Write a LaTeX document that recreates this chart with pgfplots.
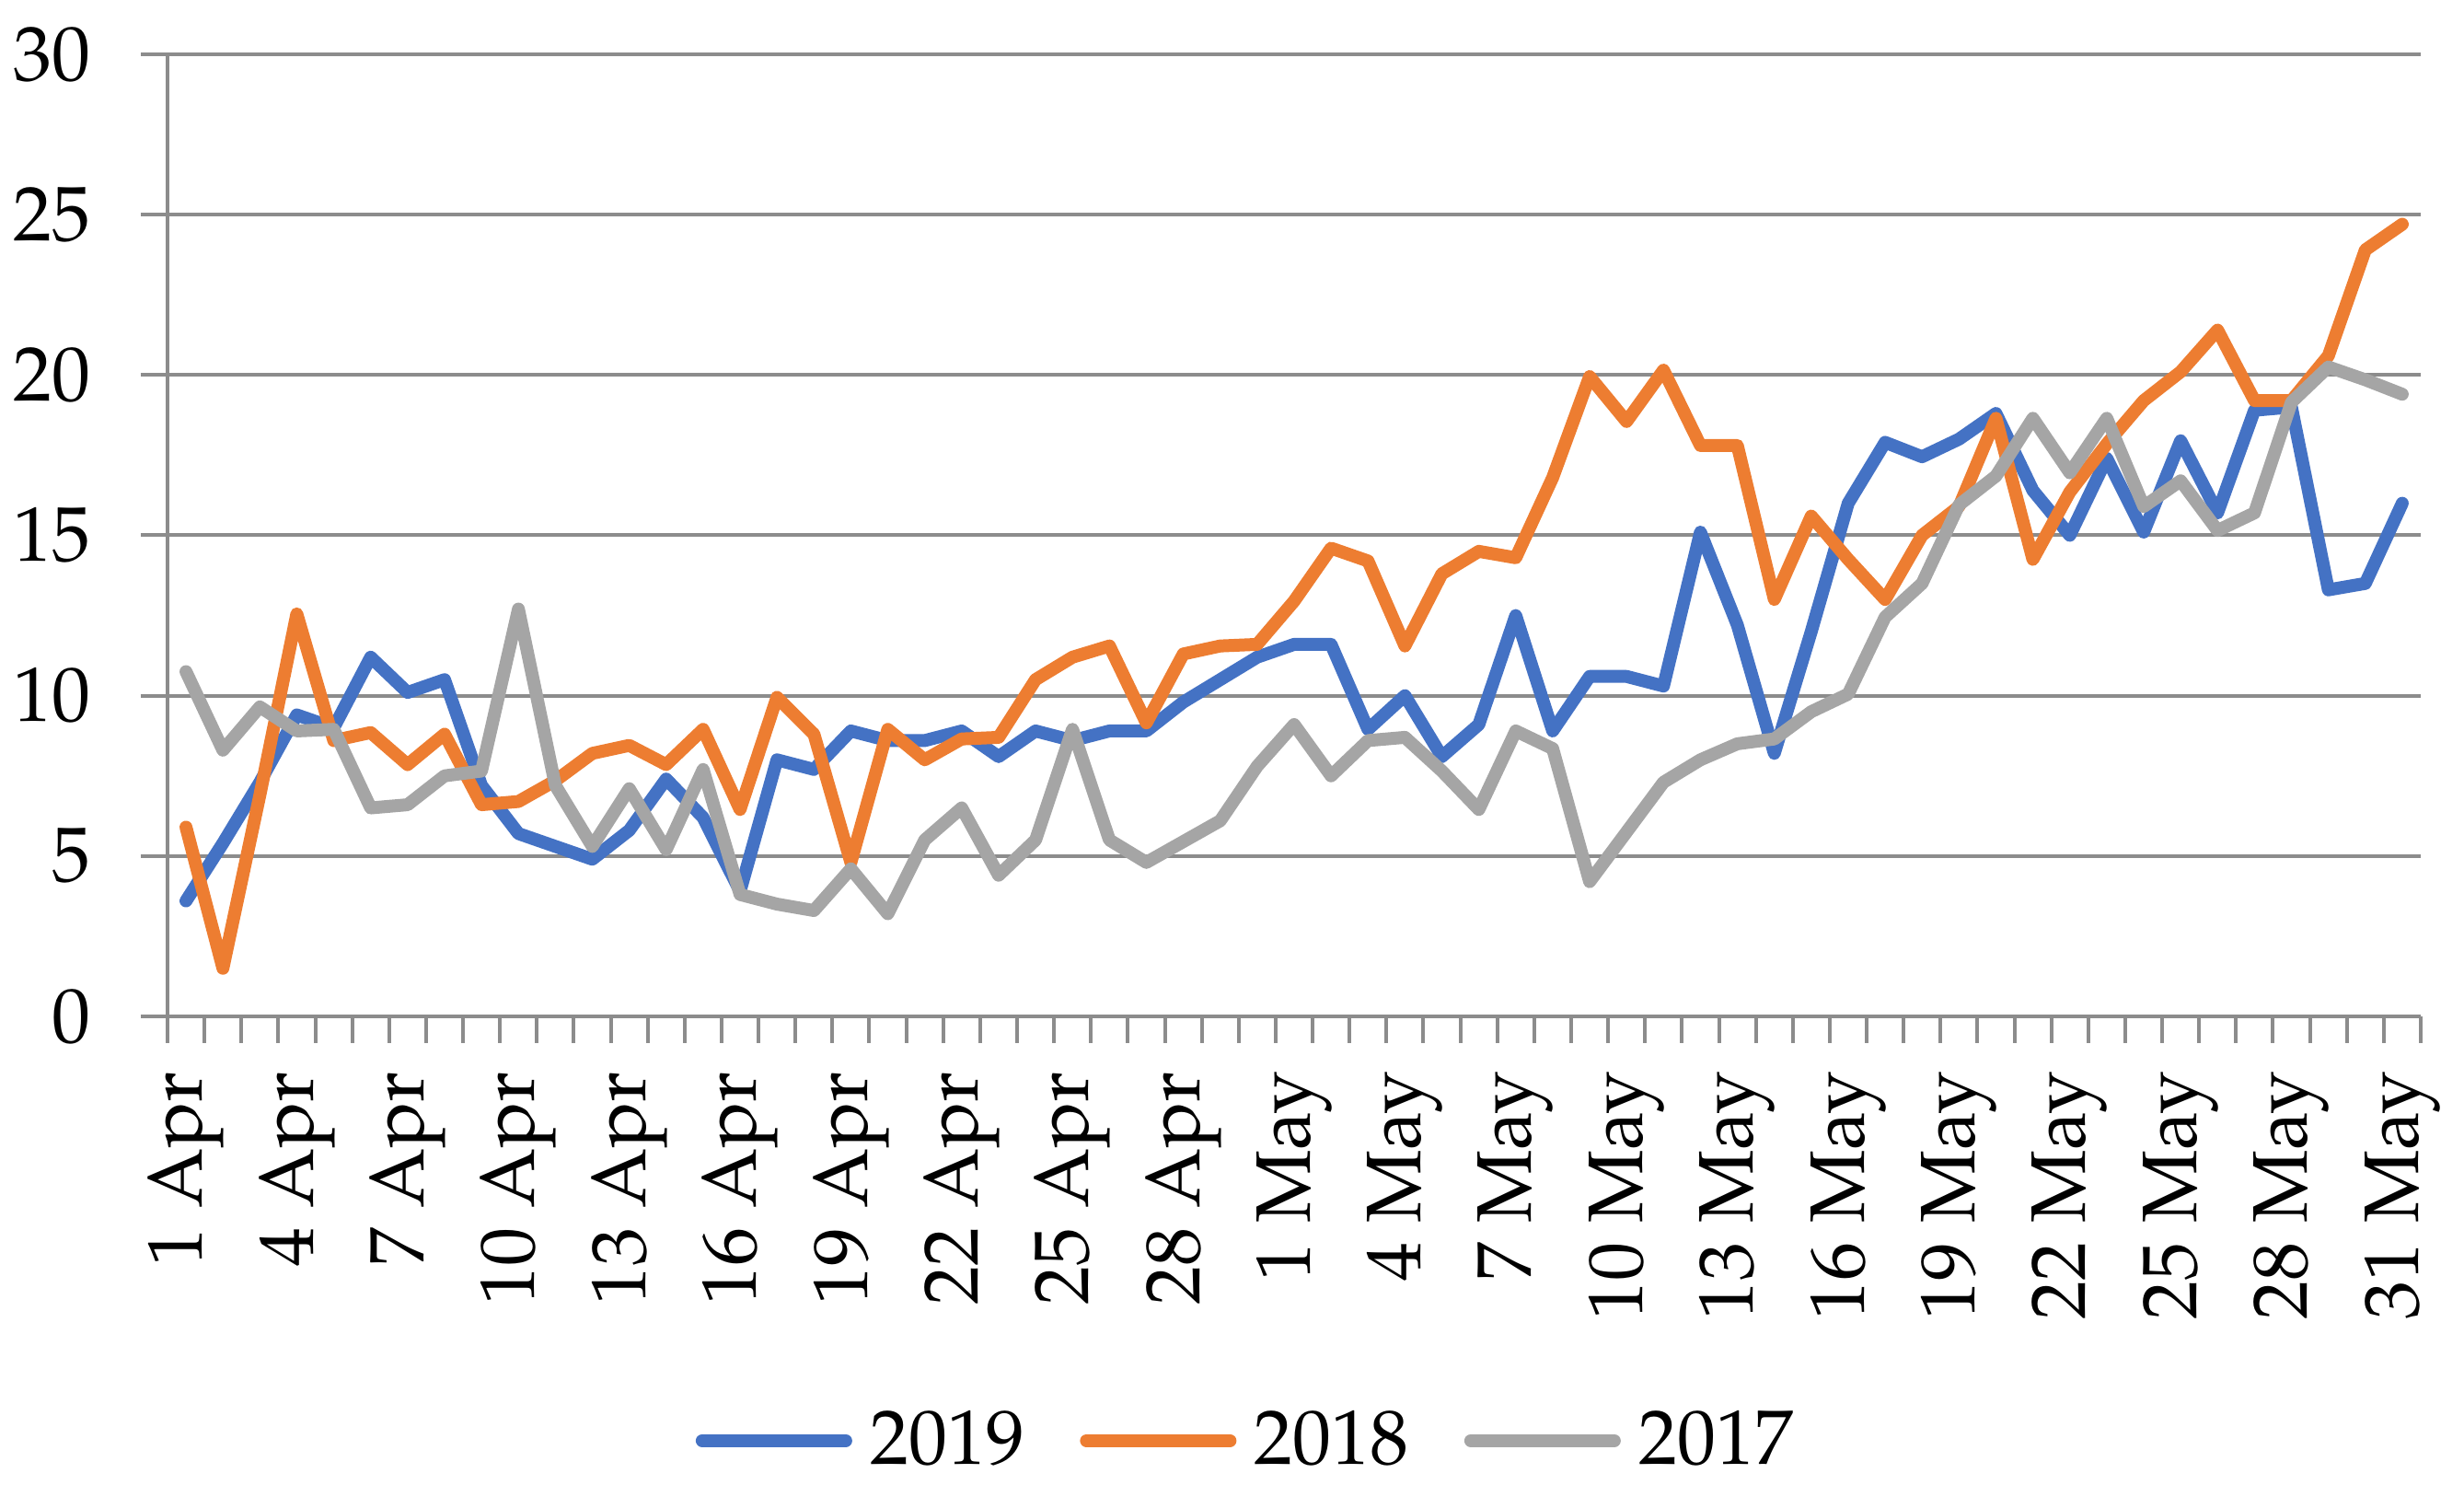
\documentclass[border=0pt]{standalone}
\usepackage{fontspec}
\setmainfont{TeX Gyre Pagella}
\usepackage{pgfplots}
\usepackage{pgfplotstable}
\pgfplotsset{compat=1.18}
\definecolor{c2019}{HTML}{4472C4}
\definecolor{c2018}{HTML}{ED7D31}
\definecolor{c2017}{HTML}{A5A5A5}
\definecolor{gridgray}{HTML}{8C8C8C}
\newcommand{\chartfont}{\fontsize{16.8}{20}\selectfont}

\pgfplotstableread{
i y
0 3.6
1 5.4
2 7.3
3 9.4
4 9.0
5 11.2
6 10.1
7 10.5
8 7.2
9 5.7
10 5.3
11 4.9
12 5.8
13 7.4
14 6.2
15 3.9
16 8.0
17 7.7
18 8.9
19 8.6
20 8.6
21 8.9
22 8.1
23 8.9
24 8.6
25 8.9
26 8.9
27 9.8
28 10.5
29 11.2
30 11.6
31 11.6
32 8.95
33 10.0
34 8.1
35 9.1
36 12.5
37 8.9
38 10.6
39 10.6
40 10.3
41 15.1
42 12.2
43 8.2
44 12.0
45 16.0
46 17.9
47 17.45
48 18.0
49 18.8
50 16.4
51 15.0
52 17.4
53 15.1
54 17.95
55 15.7
56 18.9
57 19.0
58 13.3
59 13.5
60 16.0
}\tableA

\pgfplotstableread{
i y
0 5.9
1 1.5
2 6.9
3 12.55
4 8.6
5 8.85
6 7.85
7 8.8
8 6.6
9 6.7
10 7.35
11 8.2
12 8.45
13 7.85
14 8.95
15 6.45
16 9.95
17 8.8
18 4.8
19 8.95
20 8.0
21 8.65
22 8.7
23 10.5
24 11.2
25 11.55
26 9.15
27 11.3
28 11.55
29 11.6
30 12.95
31 14.6
32 14.2
33 11.55
34 13.8
35 14.5
36 14.3
37 16.8
38 19.95
39 18.55
40 20.15
41 17.8
42 17.8
43 13.0
44 15.6
45 14.25
46 13.0
47 15.0
48 15.9
49 18.65
50 14.25
51 16.35
52 17.85
53 19.2
54 20.1
55 21.4
56 19.2
57 19.2
58 20.6
59 23.9
60 24.7
}\tableB

\pgfplotstableread{
i y
0 10.75
1 8.3
2 9.65
3 8.9
4 8.95
5 6.5
6 6.6
7 7.5
8 7.65
9 12.7
10 7.2
11 5.3
12 7.1
13 5.2
14 7.7
15 3.8
16 3.5
17 3.3
18 4.6
19 3.2
20 5.5
21 6.5
22 4.4
23 5.5
24 8.95
25 5.5
26 4.8
27 5.45
28 6.1
29 7.8
30 9.1
31 7.5
32 8.6
33 8.7
34 7.65
35 6.45
36 8.9
37 8.35
38 4.2
39 5.75
40 7.3
41 8.0
42 8.5
43 8.65
44 9.5
45 10.05
46 12.45
47 13.5
48 15.95
49 16.85
50 18.65
51 16.95
52 18.65
53 15.9
54 16.7
55 15.15
56 15.7
57 19.15
58 20.25
59 19.85
60 19.4
}\tableC

\begin{document}
\begin{tikzpicture}[font=\chartfont]
\useasboundingbox (0,0) rectangle (535.4pt,322.6pt);
\begin{axis}[
  at={(36.4pt,101.8pt)}, anchor=south west,
  scale only axis, width=489.6pt, height=209pt,
  xmin=-0.5, xmax=60.5, ymin=0, ymax=30,
  axis x line*=bottom, axis y line*=left,
  axis line style={draw=gridgray, line width=0.8pt},
  xtick={0,3,...,60},
  xticklabels={1 Apr,4 Apr,7 Apr,10 Apr,13 Apr,16 Apr,19 Apr,22 Apr,25 Apr,28 Apr,1 May,4 May,7 May,10 May,13 May,16 May,19 May,22 May,25 May,28 May,31 May},
  minor xtick={-0.5,0.5,...,60.5},
  ytick={0,5,...,30},
  minor ytick={0,5,...,30},
  major tick length=0pt, minor tick length=5.8pt,
  tick align=outside,
  tick style={draw=gridgray, line width=0.8pt},
  minor tick style={draw=gridgray, line width=0.8pt},
  ymajorgrids,
  major grid style={draw=gridgray, line width=0.8pt},
  tick label style={font=\chartfont},
  /pgf/number format/assume math mode=true,
  xticklabel style={rotate=90, anchor=east, inner sep=0pt},
  xticklabel shift=11.8pt,
  yticklabel style={anchor=east, inner sep=0pt},
  yticklabel shift=16.4pt,
  legend columns=3,
  legend style={at={(axis description cs:0.478,-0.441)}, anchor=center, draw=none, font=\chartfont,
    nodes={inner sep=0pt},
    /tikz/every odd column/.append style={column sep=3.9pt},
    /tikz/every even column/.append style={column sep=12pt}},
  legend image code/.code={\draw[#1, line width=2.8pt, line cap=round] (0pt,0pt) -- (31.2pt,0pt);},
  every axis plot/.append style={line width=2.8pt, line join=round, line cap=round, mark=none},
]
\addplot[c2019] table[x=i,y=y] {\tableA};
\addlegendentry{2019}
\addplot[c2018] table[x=i,y=y] {\tableB};
\addlegendentry{2018}
\addplot[c2017] table[x=i,y=y] {\tableC};
\addlegendentry{2017}
\end{axis}
\end{tikzpicture}
\end{document}
